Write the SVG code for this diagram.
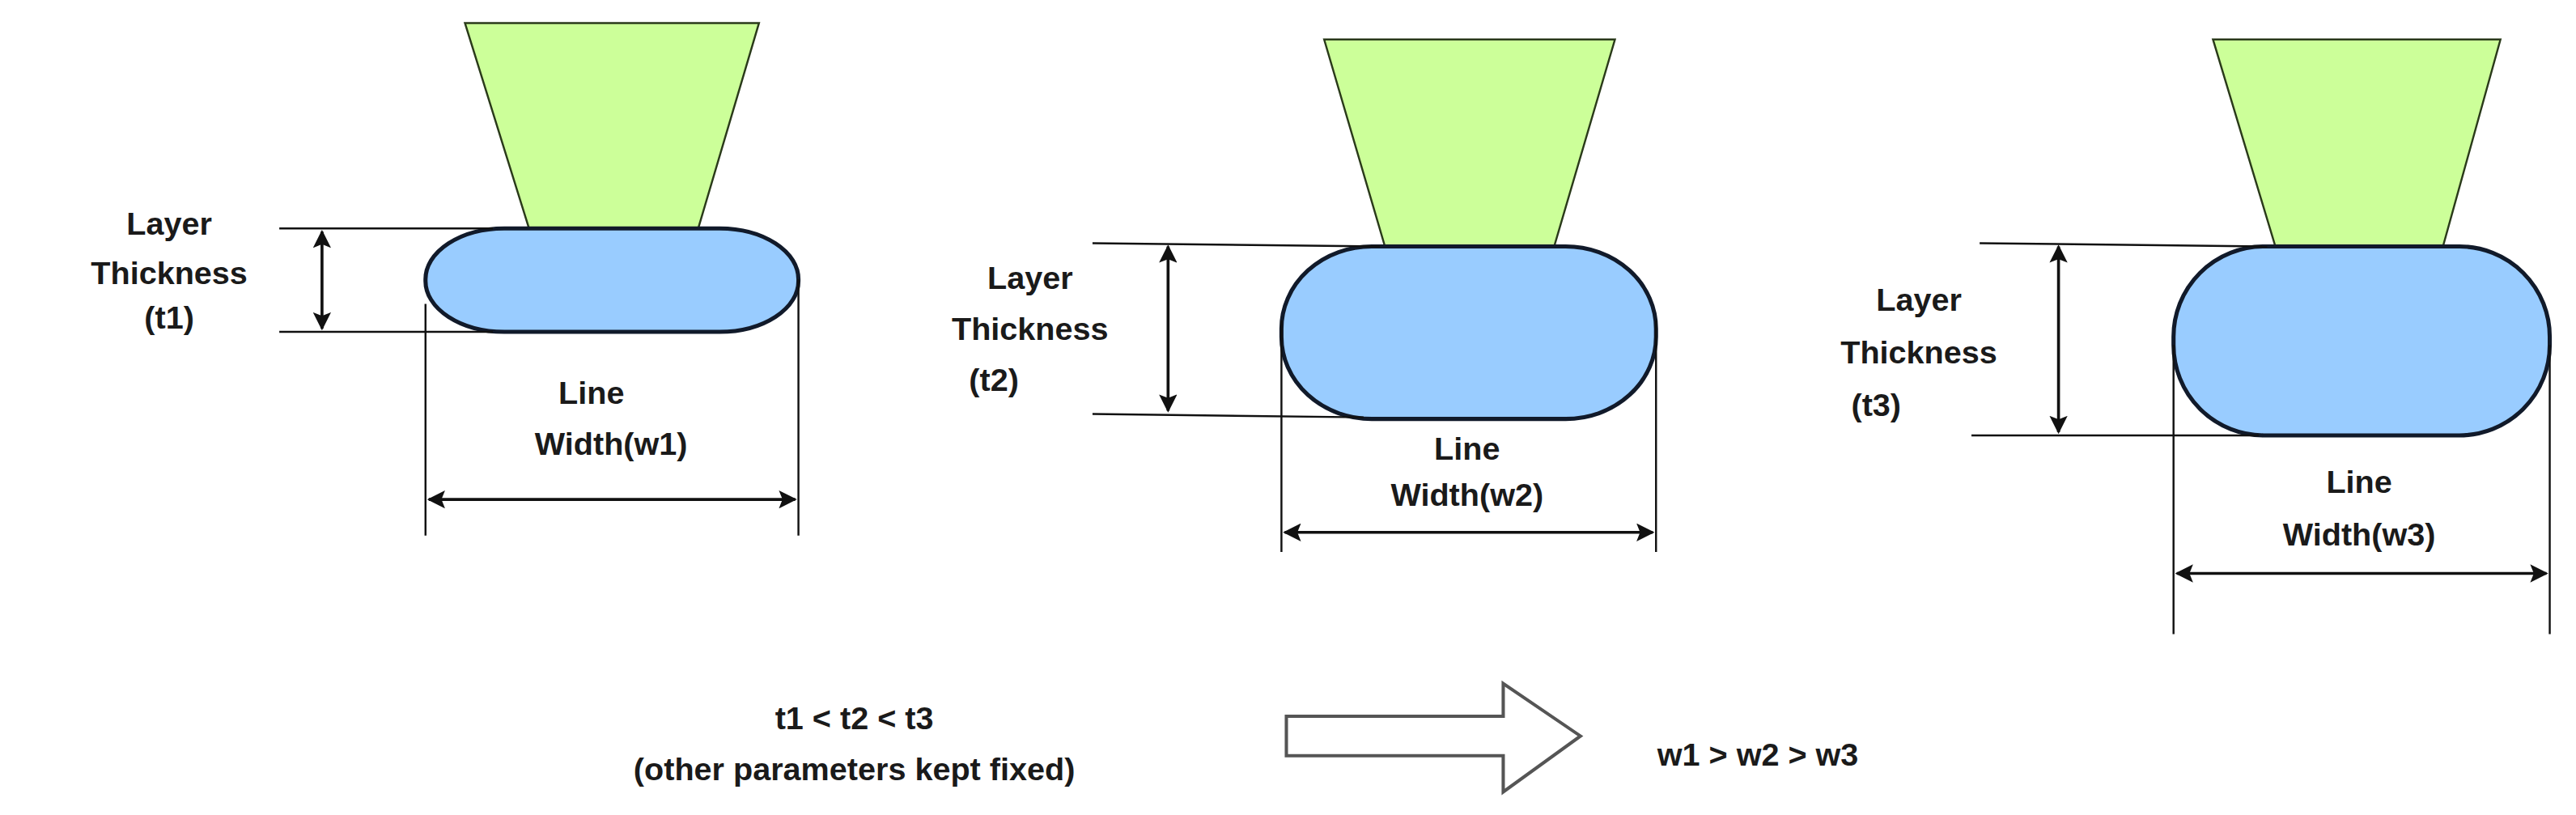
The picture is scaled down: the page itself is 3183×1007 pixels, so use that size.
<svg xmlns="http://www.w3.org/2000/svg" width="3183" height="1007" viewBox="0 0 3183 1007">
<defs>
<style>
.noz{fill:#ccff99;stroke:#2a3a1a;stroke-width:1.2}
.bead{fill:#99ccff;stroke:#111a2a;stroke-width:2.5}
.ln{stroke:#111;stroke-width:1.2;fill:none}
.arr{stroke:#111;stroke-width:1.8;fill:none;marker-start:url(#ah);marker-end:url(#ah)}
text{font-family:"Liberation Sans",Arial,sans-serif;font-size:19.5px;font-weight:bold;fill:#1a1a1a;text-anchor:middle}
</style>
<marker id="ah" viewBox="0 0 10 10" refX="9" refY="5" markerWidth="11" markerHeight="11" orient="auto-start-reverse" markerUnits="userSpaceOnUse"><path d="M0,0 L10,5 L0,10 L2,5 z" fill="#111"/></marker>
</defs>
<rect width="3183" height="1007" fill="#fff"/>
<g transform="scale(2.03)">
<g id="panel1">
<polygon class="noz" points="283,14 462,14 425,139 322,139"/>
<rect class="bead" x="259" y="139" width="227" height="63" rx="48" ry="31"/>
<text x="103" y="143">Layer</text><text x="103" y="173">Thickness</text><text x="103" y="200">(t1)</text>
<text x="360" y="246">Line</text><text x="372" y="277">Width(w1)</text>
</g>
<g id="panel2">
<polygon class="noz" points="806,24 983,24 946,150 843,150"/>
<rect class="bead" x="780" y="150" width="228" height="105" rx="55" ry="50"/>
<text x="627" y="176">Layer</text><text x="627" y="207">Thickness</text><text x="605" y="238">(t2)</text>
<text x="893" y="280">Line</text><text x="893" y="308">Width(w2)</text>
</g>
<g id="panel3">
<polygon class="noz" points="1347,24 1522,24 1487,150 1385,150"/>
<rect class="bead" x="1323" y="150" width="229" height="115" rx="55" ry="55"/>
<text x="1168" y="189">Layer</text><text x="1168" y="221">Thickness</text><text x="1142" y="253">(t3)</text>
<text x="1436" y="300">Line</text><text x="1436" y="332">Width(w3)</text>
</g>
<g id="bottom">
<text x="520" y="444">t1 &lt; t2 &lt; t3</text>
<text x="520" y="475">(other parameters kept fixed)</text>
<polygon points="783,436 915,436 915,416 962,448 915,482 915,460 783,460" fill="#fff" stroke="#555" stroke-width="2"/>
<text x="1070" y="466">w1 &gt; w2 &gt; w3</text>
</g>
<g id="connectors">
<line class="ln" x1="170" y1="139" x2="300" y2="139"/>
<line class="ln" x1="170" y1="202" x2="300" y2="202"/>
<line class="arr" x1="196" y1="141" x2="196" y2="200"/>
<line class="ln" x1="259" y1="185" x2="259" y2="326"/>
<line class="ln" x1="486" y1="170" x2="486" y2="326"/>
<line class="arr" x1="261" y1="304" x2="484" y2="304"/>
<line class="ln" x1="665" y1="148" x2="840" y2="150"/>
<line class="ln" x1="665" y1="252" x2="830" y2="254"/>
<line class="arr" x1="711" y1="150" x2="711" y2="250"/>
<line class="ln" x1="780" y1="195" x2="780" y2="336"/>
<line class="ln" x1="1008" y1="195" x2="1008" y2="336"/>
<line class="arr" x1="782" y1="324" x2="1006" y2="324"/>
<line class="ln" x1="1205" y1="148" x2="1380" y2="150"/>
<line class="ln" x1="1200" y1="265" x2="1375" y2="265"/>
<line class="arr" x1="1253" y1="150" x2="1253" y2="263"/>
<line class="ln" x1="1323" y1="210" x2="1323" y2="386"/>
<line class="ln" x1="1552" y1="210" x2="1552" y2="386"/>
<line class="arr" x1="1325" y1="349" x2="1550" y2="349"/>
</g>
</g>
</svg>
